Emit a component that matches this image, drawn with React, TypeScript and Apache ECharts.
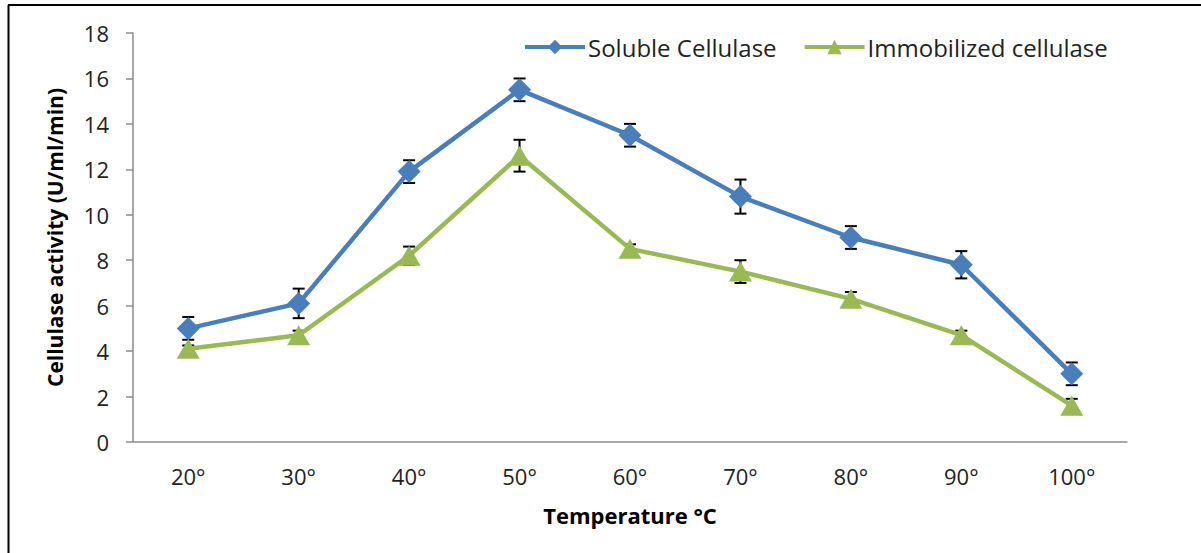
import React, { useEffect, useRef } from "react";
import * as echarts from "echarts";

const categories = ["20°", "30°", "40°", "50°", "60°", "70°", "80°", "90°", "100°"];
const solubleValues = [5.0, 6.1, 11.9, 15.5, 13.5, 10.8, 9.0, 7.8, 3.0];
const solubleErrors = [0.5, 0.65, 0.5, 0.5, 0.5, 0.75, 0.5, 0.6, 0.5];
const immobilizedValues = [4.1, 4.7, 8.2, 12.6, 8.5, 7.5, 6.3, 4.7, 1.6];
const immobilizedErrors = [0.15, 0.2, 0.4, 0.7, 0.2, 0.5, 0.3, 0.2, 0.3];
const yTicks = { min: 0, max: 18, interval: 2 };

const FONT = "'Open Sans', 'Noto Sans', sans-serif";
const BLUE = "#4a7ebb";
const GREEN = "#98b954";

function errorData(values: number[], errors: number[]) {
  return values.map((v, i) => [i, v - errors[i], v + errors[i]]);
}

function renderErrorBar(params: any, api: any) {
  const idx = api.value(0);
  const lo = api.coord([idx, api.value(1)]);
  const hi = api.coord([idx, api.value(2)]);
  const half = 6;
  const style = { stroke: "#000", lineWidth: 2 };
  return {
    type: "group",
    children: [
      { type: "line", shape: { x1: lo[0], y1: lo[1], x2: hi[0], y2: hi[1] }, style },
      { type: "line", shape: { x1: hi[0] - half, y1: hi[1], x2: hi[0] + half, y2: hi[1] }, style },
      { type: "line", shape: { x1: lo[0] - half, y1: lo[1], x2: lo[0] + half, y2: lo[1] }, style },
    ],
  };
}

export default function App() {
  const ref = useRef<HTMLDivElement>(null);
  useEffect(() => {
    document.body.style.margin = "0";
    if (!ref.current) return;
    const chart = echarts.init(ref.current, undefined, { renderer: "svg" });
    chart.setOption({
      animation: false,
      backgroundColor: "#ffffff",
      textStyle: { fontFamily: FONT },
      graphic: [
        { type: "line", shape: { x1: 8, y1: 5, x2: 1201, y2: 5 }, style: { stroke: "#000", lineWidth: 2 } },
        { type: "line", shape: { x1: 8.5, y1: 5, x2: 8.5, y2: 553 }, style: { stroke: "#000", lineWidth: 2 } },
      ],
      legend: {
        data: ["Soluble Cellulase", "Immobilized cellulase"],
        left: 523,
        top: 35,
        padding: 0,
        itemWidth: 60,
        itemHeight: 18,
        itemGap: 26,
        lineStyle: { width: 4 },
        textStyle: { fontFamily: FONT, fontSize: 24, color: "#222", padding: [0, 0, 0, -2] },
      },
      grid: { left: 133, right: 74, top: 33, bottom: 111, containLabel: false },
      xAxis: {
        type: "category",
        data: categories,
        boundaryGap: true,
        name: "Temperature °C",
        nameLocation: "middle",
        nameGap: 62,
        nameTextStyle: { fontFamily: FONT, fontSize: 22, fontWeight: "bold", color: "#000" },
        axisLine: { lineStyle: { color: "#8c8c8c", width: 1.5 } },
        axisTick: { show: false },
        axisLabel: { margin: 23, fontSize: 22, color: "#222", fontFamily: FONT },
        splitLine: { show: false },
      },
      yAxis: {
        type: "value",
        min: yTicks.min,
        max: yTicks.max,
        interval: yTicks.interval,
        name: "Cellulase activity (U/ml/min)",
        nameLocation: "middle",
        nameGap: 68,
        nameTextStyle: { fontFamily: FONT, fontSize: 21, fontWeight: "bold", color: "#000" },
        axisLine: { show: true, lineStyle: { color: "#8c8c8c", width: 1.5 } },
        axisTick: { show: true, inside: false, length: 7, lineStyle: { color: "#8c8c8c", width: 1.5 } },
        axisLabel: { margin: 24, fontSize: 22, color: "#222", fontFamily: FONT },
        splitLine: { show: false },
      },
      series: [
        {
          name: "Soluble Cellulase err",
          type: "custom",
          renderItem: renderErrorBar,
          data: errorData(solubleValues, solubleErrors),
          encode: { x: 0, y: [1, 2] },
          z: 1,
          silent: true,
        },
        {
          name: "Immobilized cellulase err",
          type: "custom",
          renderItem: renderErrorBar,
          data: errorData(immobilizedValues, immobilizedErrors),
          encode: { x: 0, y: [1, 2] },
          z: 1,
          silent: true,
        },
        {
          name: "Soluble Cellulase",
          type: "line",
          data: solubleValues,
          symbol: "diamond",
          symbolSize: [23, 23],
          lineStyle: { color: BLUE, width: 4.5 },
          itemStyle: { color: BLUE },
          z: 3,
        },
        {
          name: "Immobilized cellulase",
          type: "line",
          data: immobilizedValues,
          symbol: "triangle",
          symbolSize: [23, 20],
          lineStyle: { color: GREEN, width: 4.5 },
          itemStyle: { color: GREEN },
          z: 3,
        },
      ],
    });
    return () => chart.dispose();
  }, []);
  return <div ref={ref} style={{ width: 1201, height: 553 }} />;
}
